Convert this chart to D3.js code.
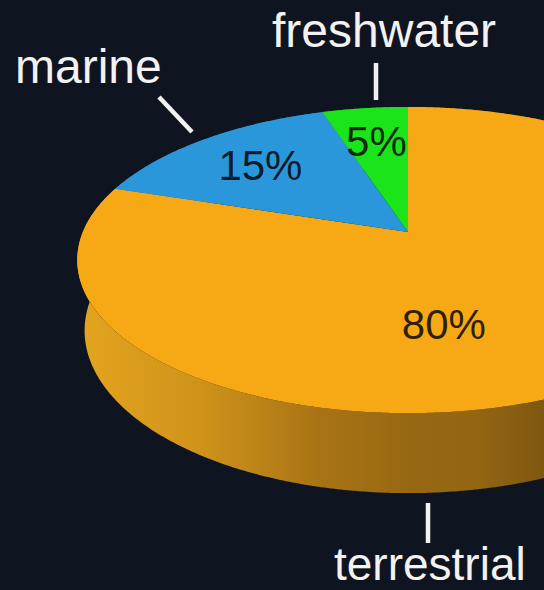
<!DOCTYPE html>
<html>
<head>
<meta charset="utf-8">
<script src="https://cdn.jsdelivr.net/npm/d3@7"></script>
<style>
  html, body { margin: 0; padding: 0; background: #0f1520; }
  svg { display: block; }
</style>
</head>
<body>
<svg id="chart" width="544" height="590"></svg>
<script>
// Habitat shares
const categories = ["terrestrial", "marine", "freshwater"];
const shares = [80, 15, 5];
const sliceColors = ["#f6a815", "#2b97db", "#1be41b"];
const sideColors = ["#b07816", "#1d6a9c", "#12a012"];

const W = 544, H = 590;
const svg = d3.select("#chart");

// Perspective camera for a tilted disc of unit radius
const cam = {
  cx: 408, cy: 232,      // screen position of the disc centre
  Fx: 1590, Fy: 1619,    // focal lengths in px
  D: 4.89,               // camera distance (disc radii)
  phi: Math.asin(0.447), // elevation
  h: 0.24                // disc thickness (radii)
};
const sinP = Math.sin(cam.phi), cosP = Math.cos(cam.phi);

// theta: 0 at the far edge, clockwise seen from above; level: 0 top, -h bottom
function project(theta, r, level) {
  const px = r * Math.sin(theta), py = level, pz = -r * Math.cos(theta);
  const vx = px, vy = py - cam.D * sinP, vz = pz - cam.D * cosP;
  const d = -(vy * sinP + vz * cosP);
  const xc = vx;
  const yc = vy * cosP - vz * sinP;
  return [cam.cx + cam.Fx * xc / d, cam.cy - cam.Fy * yc / d];
}

function rim(a0, a1, level, step = Math.PI / 360) {
  const pts = [];
  const n = Math.max(2, Math.ceil((a1 - a0) / step));
  for (let i = 0; i <= n; i++) pts.push(project(a0 + (a1 - a0) * i / n, 1, level));
  return pts;
}

const data = categories.map((c, i) => ({ name: c, value: shares[i] }));
const arcs = d3.pie().sort(null).value(d => d.value)(data);
const color = d3.scaleOrdinal(categories, sliceColors);
const sideColor = d3.scaleOrdinal(categories, sideColors);
const line = d3.line();

// Shading across the visible wall
const defs = svg.append("defs");
const grad = defs.append("linearGradient")
  .attr("id", "wall-terrestrial")
  .attr("gradientUnits", "userSpaceOnUse")
  .attr("x1", 80).attr("y1", 0).attr("x2", 560).attr("y2", 0);
[[0, "#e4a41e"], [0.25, "#cf931a"], [0.5, "#a87315"], [0.7, "#966813"],
 [0.82, "#946612"], [1, "#7a5410"]].forEach(([o, c]) =>
  grad.append("stop").attr("offset", o).attr("stop-color", c));

// Walls: strip between top and bottom rims of each slice
const walls = svg.append("g");
walls.selectAll("path")
  .data(arcs)
  .join("path")
  .attr("d", a => {
    const top = rim(a.startAngle, a.endAngle, 0);
    const bot = rim(a.startAngle, a.endAngle, -cam.h).reverse();
    return line(top.concat(bot)) + "Z";
  })
  .attr("fill", a => a.data.name === "terrestrial" ? "url(#wall-terrestrial)" : sideColor(a.data.name));

// Top faces
const tops = svg.append("g");
tops.selectAll("path")
  .data(arcs)
  .join("path")
  .attr("d", a => line([project(0, 0, 0)].concat(rim(a.startAngle, a.endAngle, 0))) + "Z")
  .attr("fill", a => color(a.data.name));

// Percentage labels at mid-angle; the large slice is placed inside the visible area
const labelSpot = {
  terrestrial: { angle: 170 * Math.PI / 180, r: 0.57 }
};
svg.append("g").selectAll("text")
  .data(arcs)
  .join("text")
  .each(function (a) {
    const s = labelSpot[a.data.name] || { angle: (a.startAngle + a.endAngle) / 2, r: 0.7 };
    const [x, y] = project(s.angle, s.r, 0);
    d3.select(this).attr("x", x).attr("y", y);
  })
  .attr("dy", "0.35em")
  .attr("text-anchor", "middle")
  .attr("font-family", "'Liberation Sans', Arial, sans-serif")
  .attr("font-size", 42)
  .attr("fill", "#000")
  .attr("fill-opacity", 0.82)
  .text(a => `${a.data.value}%`);

// Callouts with leader lines
const callouts = [
  { name: "marine", tx: 15, ty: 83, size: 48, l: [[159, 97], [192, 132]] },
  { name: "freshwater", tx: 272, ty: 47, size: 48, l: [[376, 63], [376, 100]] },
  { name: "terrestrial", tx: 334, ty: 580, size: 46, l: [[428, 503], [428, 543]] }
];
const cg = svg.append("g");
cg.selectAll("line")
  .data(callouts)
  .join("line")
  .attr("x1", d => d.l[0][0]).attr("y1", d => d.l[0][1])
  .attr("x2", d => d.l[1][0]).attr("y2", d => d.l[1][1])
  .attr("stroke", "#f2f2f2")
  .attr("stroke-width", 4.5);
cg.selectAll("text")
  .data(callouts)
  .join("text")
  .attr("x", d => d.tx).attr("y", d => d.ty)
  .attr("font-family", "'Liberation Sans', Arial, sans-serif")
  .attr("font-size", d => d.size)
  .attr("fill", "#f2f2f2")
  .text(d => d.name);
</script>
</body>
</html>
